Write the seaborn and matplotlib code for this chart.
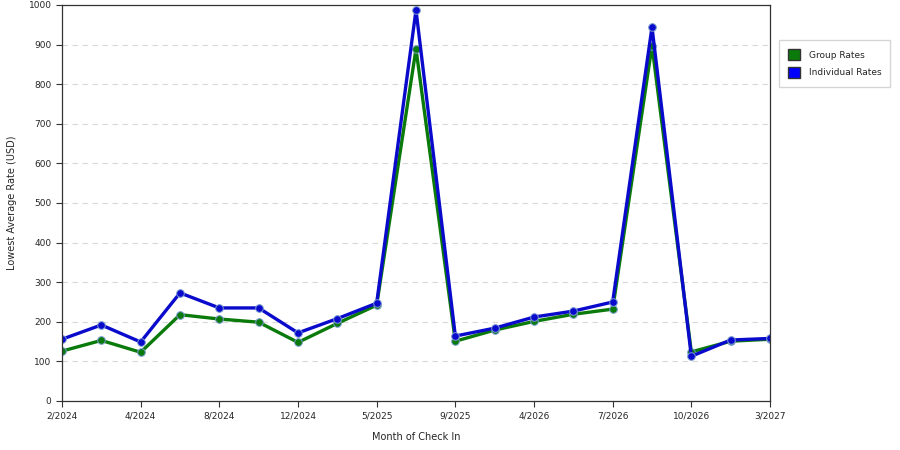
import matplotlib
matplotlib.use("Agg")
import matplotlib.pyplot as plt
import matplotlib.patches as mpatches
import seaborn as sns
import pandas as pd

# Données
point_index = list(range(19))
tick_positions = [0, 2, 4, 6, 8, 10, 12, 14, 16, 18]
tick_labels = ["2/2024", "4/2024", "8/2024", "12/2024", "5/2025",
               "9/2025", "4/2026", "7/2026", "10/2026", "3/2027"]
group_rates = [126, 153, 123, 218, 207, 199, 148, 196, 242, 889,
               151, 179, 201, 219, 232, 897, 124, 151, 156]
individual_rates = [156, 192, 149, 273, 235, 235, 172, 208, 247, 987,
                    164, 184, 212, 227, 250, 944, 113, 154, 158]

df = pd.DataFrame({
    "idx": point_index * 2,
    "rate": group_rates + individual_rates,
    "serie": ["Group Rates"] * 19 + ["Individual Rates"] * 19,
})

sns.set_style("white")
plt.rcParams["font.family"] = ["DejaVu Sans"]

fig = plt.figure(figsize=(9, 4.5), dpi=100)
ax = fig.add_axes([62 / 900, 49 / 450, 708 / 900, 396 / 450])

palette = {"Group Rates": "#0a7a0a", "Individual Rates": "#0a0acc"}
sns.lineplot(data=df, x="idx", y="rate", hue="serie", palette=palette,
             linewidth=2.4, marker="o", markersize=5.5,
             markeredgecolor="#7a9ad0", markeredgewidth=0.7,
             ax=ax, legend=False)

ax.set_xlim(0, 18)
ax.set_ylim(0, 1000)
ax.set_yticks(range(0, 1001, 100))
ax.set_xticks(tick_positions)
ax.set_xticklabels(tick_labels)
ax.tick_params(axis="both", labelsize=6.5, direction="out", length=4,
               width=0.8, color="#333333", left=True, bottom=True)
ax.yaxis.grid(True, linestyle=(0, (5, 4)), color="#d8d8d8", linewidth=0.8)
ax.set_axisbelow(True)
for s in ax.spines.values():
    s.set_color("#333333")
    s.set_linewidth(0.9)

ax.set_xlabel("Month of Check In", fontsize=7, labelpad=8)
ax.set_ylabel("Lowest Average Rate (USD)", fontsize=7, labelpad=8)

handles = [
    mpatches.Patch(facecolor="#0a7a0a", edgecolor="#333333", label="Group Rates"),
    mpatches.Patch(facecolor="#0000ff", edgecolor="#333333", label="Individual Rates"),
]
fig.legend(handles=handles, loc="upper left", bbox_to_anchor=(779 / 900, 1 - 40 / 450),
           borderaxespad=0, fontsize=6.5, frameon=True, fancybox=False,
           edgecolor="#cccccc", handlelength=1.3, handleheight=1.5,
           borderpad=1.0, labelspacing=0.75, handletextpad=1.0)

fig.savefig("out.png", dpi=100)
